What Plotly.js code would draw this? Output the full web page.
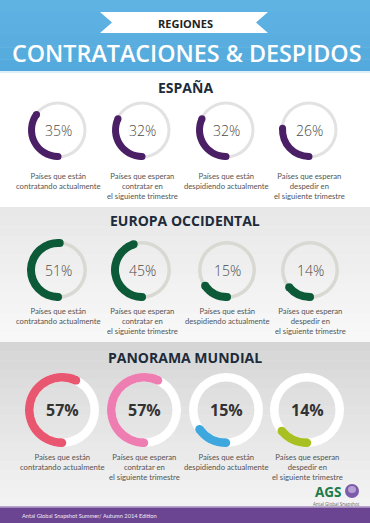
<!DOCTYPE html>
<html><head><meta charset="utf-8">
<script src="https://cdn.plot.ly/plotly-3.0.1.min.js"></script>
<style>html,body{margin:0;padding:0;background:#fff;overflow:hidden}#chart{width:370px;height:523px}</style>
</head><body><div id="chart"></div>
<script>
// ---- data ----
const headerTag = 'REGIONES';
const mainTitle = 'CONTRATACIONES & DESPIDOS';
const regionTitles = ['ESPAÑA', 'EUROPA OCCIDENTAL', 'PANORAMA MUNDIAL'];
const espanaValues = [35, 32, 32, 26];
const europaValues = [51, 45, 15, 14];
const mundialValues = [57, 57, 15, 14];
const metricLabels = [
  ['Países que están', 'contratando actualmente'],
  ['Países que esperan', 'contratar en', 'el siguiente trimestre'],
  ['Países que están', 'despidiendo actualmente'],
  ['Países que esperan', 'despedir en', 'el siguiente trimestre']
];
const footerText = 'Antal Global Snapshot Summer/ Autumn 2014 Edition';
const logoText = 'AGS';
const logoSub = 'Antal Global Snapshot';

// ---- styling / layout ----
const W = 370, H = 523;
const FONT = 'Open Sans, Noto Sans, sans-serif';
const NARROW = 'Lato, Roboto, sans-serif';
const sections = [
  {values: espanaValues, titleY: 87, cx: [58, 142, 226, 309], cy: 130, rOut: 30, thick: 7,
   trackOut: 28.5, trackThick: 3, trackColor: '#e2e2e2',
   colors: ['#4b1f66', '#4b1f66', '#4b1f66', '#4b1f66'],
   pctSize: 14, pctWeight: 300, pctColor: '#4a4a4a', labelTop: 170},
  {values: europaValues, titleY: 220, cx: [58, 142, 227, 310], cy: 270, rOut: 31, thick: 8,
   trackOut: 29, trackThick: 3.5, trackColor: '#d9d9d3',
   colors: ['#0c5a38', '#0c5a38', '#0c5a38', '#0c5a38'],
   pctSize: 14, pctWeight: 300, pctColor: '#4a4a4a', labelTop: 305},
  {values: mundialValues, titleY: 357, cx: [62, 144, 226, 307], cy: 410, rOut: 37, thick: 8.5,
   trackOut: 37, trackThick: 8.5, trackColor: '#ffffff',
   colors: ['#e8566f', '#ee7eb2', '#3ea8de', '#a9c022'],
   pctSize: 16, pctWeight: 700, pctColor: '#333333', labelTop: 451}
];

const data = [];
const shapes = [];
const annotations = [];

function hexLerp(a, b, t) {
  const pa = [1,3,5].map(i => parseInt(a.substr(i,2),16));
  const pb = [1,3,5].map(i => parseInt(b.substr(i,2),16));
  const c = pa.map((v,i) => Math.round(v + (pb[i]-v)*t));
  return 'rgb(' + c.join(',') + ')';
}
function band(y0, y1, c0, c1, n) {
  for (let i = 0; i < n; i++) {
    shapes.push({type: 'rect', xref: 'x', yref: 'y', layer: 'below', x0: 0, x1: W,
      y0: y0 + (y1 - y0) * i / n, y1: y0 + (y1 - y0) * (i + 1) / n + 0.5,
      fillcolor: hexLerp(c0, c1, n > 1 ? i / (n - 1) : 0), line: {width: 0}});
  }
}
// backgrounds
band(0, 71, '#5fb3e3', '#55aadd', 6);
shapes.push({type: 'rect', xref: 'x', yref: 'y', layer: 'below', x0: 0, x1: W, y0: 71, y1: 73, fillcolor: '#dfeff9', line: {width: 0}});
band(73, 207, '#ffffff', '#ffffff', 1);
band(207, 342, '#e8e8e8', '#f8f8f8', 14);
band(342, 507, '#d6d6d6', '#f3f3f3', 18);
shapes.push({type: 'rect', xref: 'x', yref: 'y', layer: 'below', x0: 0, x1: W, y0: 506, y1: 507.5, fillcolor: '#b9a6cc', line: {width: 0}});
shapes.push({type: 'rect', xref: 'x', yref: 'y', layer: 'below', x0: 0, x1: W, y0: 507.5, y1: H, fillcolor: '#6b4592', line: {width: 0}});
// ribbon
shapes.push({type: 'path', xref: 'x', yref: 'y', layer: 'below',
  path: 'M100,12 L268,12 L256,22.5 L268,33 L100,33 L112,22.5 Z',
  fillcolor: '#ffffff', line: {width: 0}});
annotations.push({xref: 'x', yref: 'y', x: 185, y: 23, text: headerTag, showarrow: false,
  font: {family: FONT, size: 11, color: '#222', weight: 700}, xanchor: 'center', yanchor: 'middle'});
annotations.push({xref: 'x', yref: 'y', x: 187, y: 53, text: mainTitle, showarrow: false,
  font: {family: FONT, size: 23.3, color: '#ffffff', weight: 600}, xanchor: 'center', yanchor: 'middle'});

sections.forEach((s, si) => {
  annotations.push({xref: 'x', yref: 'y', x: 185, y: s.titleY, text: regionTitles[si], showarrow: false,
    font: {family: FONT, size: 14, color: '#1d2b3a', weight: 700}, xanchor: 'center', yanchor: 'middle'});
  s.values.forEach((v, i) => {
    const cx = s.cx[i], cy = s.cy;
    const dom = r => ({x: [(cx - r) / W, (cx + r) / W], y: [1 - (cy + r) / H, 1 - (cy - r) / H]});
    // track
    data.push({type: 'pie', values: [100], labels: ['t'], domain: dom(s.trackOut),
      hole: (s.trackOut - s.trackThick) / s.trackOut, marker: {colors: [s.trackColor], line: {width: 0}},
      textinfo: 'none', hoverinfo: 'skip', showlegend: false, sort: false});
    // value arc
    data.push({type: 'pie', values: [v, 100 - v], labels: ['v', 'r'], domain: dom(s.rOut),
      hole: (s.rOut - s.thick) / s.rOut, rotation: 180, direction: 'clockwise', sort: false,
      marker: {colors: [s.colors[i], 'rgba(0,0,0,0)'], line: {width: 0}},
      textinfo: 'none', hoverinfo: 'skip', showlegend: false});
    // rounded caps
    const rm = s.rOut - s.thick / 2, hr = s.thick / 2;
    [180, 180 + v * 3.6].forEach(deg => {
      const a = deg * Math.PI / 180;
      const px = cx + rm * Math.sin(a), py = cy - rm * Math.cos(a);
      shapes.push({type: 'circle', xref: 'x', yref: 'y', layer: 'above',
        x0: px - hr, x1: px + hr, y0: py - hr, y1: py + hr,
        fillcolor: s.colors[i], line: {width: 0}});
    });
    annotations.push({xref: 'x', yref: 'y', x: cx, y: cy, text: v + '%', showarrow: false,
      font: {family: FONT, size: s.pctSize, color: s.pctColor, weight: s.pctWeight},
      xanchor: 'center', yanchor: 'middle'});
    annotations.push({xref: 'x', yref: 'y', x: cx, y: s.labelTop, text: metricLabels[i].join('<br>'),
      showarrow: false, align: 'center', borderpad: 0,
      font: {family: NARROW, size: 7.7, color: '#555'}, xanchor: 'center', yanchor: 'top'});
  });
});

// logo
shapes.push({type: 'circle', xref: 'x', yref: 'y', layer: 'above', x0: 345, x1: 359, y0: 484, y1: 498,
  fillcolor: '#7d5bab', line: {width: 0}});
shapes.push({type: 'circle', xref: 'x', yref: 'y', layer: 'above', x0: 348, x1: 356, y0: 486, y1: 493,
  fillcolor: '#b59fd3', line: {width: 0}});
annotations.push({xref: 'x', yref: 'y', x: 343, y: 492, text: logoText, showarrow: false, borderpad: 0,
  font: {family: FONT, size: 13.5, color: '#1e7b4a', weight: 700}, xanchor: 'right', yanchor: 'middle'});
annotations.push({xref: 'x', yref: 'y', x: 336, y: 503.5, text: logoSub, showarrow: false, borderpad: 0,
  font: {family: FONT, size: 4.5, color: '#666'}, xanchor: 'center', yanchor: 'middle'});
annotations.push({xref: 'x', yref: 'y', x: 20, y: 515, text: footerText, showarrow: false,
  font: {family: NARROW, size: 5.7, color: '#f0eaf6'}, xanchor: 'left', yanchor: 'middle'});

// invisible trace establishing the pixel coordinate axes
data.unshift({type: 'scatter', x: [0, W], y: [0, H], mode: 'markers', marker: {opacity: 0}, hoverinfo: 'skip', showlegend: false});

const layout = {
  width: W, height: H, margin: {l: 0, r: 0, t: 0, b: 0},
  paper_bgcolor: '#ffffff', plot_bgcolor: 'rgba(0,0,0,0)',
  xaxis: {range: [0, W], visible: false, fixedrange: true},
  yaxis: {range: [H, 0], visible: false, fixedrange: true},
  shapes: shapes, annotations: annotations, showlegend: false
};
Plotly.newPlot('chart', data, layout, {staticPlot: true, displayModeBar: false});
</script></body></html>
